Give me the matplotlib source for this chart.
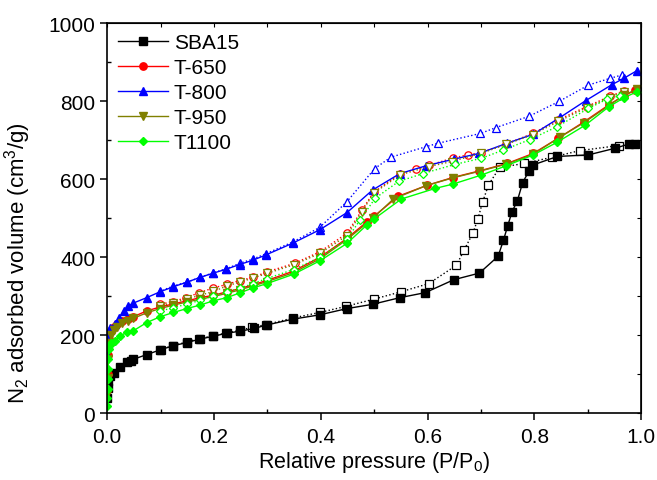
import matplotlib
matplotlib.use("Agg")
import matplotlib.pyplot as plt
from matplotlib.ticker import MultipleLocator

plt.rcParams['font.family'] = ['Liberation Sans', 'DejaVu Sans']
plt.rcParams['mathtext.default'] = 'regular'

# --- data (adsorption = filled, desorption = open) ---
sba_ads_x = [0.0005, 0.001, 0.002, 0.005, 0.012, 0.024, 0.037, 0.044, 0.049, 0.074, 0.099, 0.124,
             0.150, 0.174, 0.199, 0.224, 0.249, 0.275, 0.299, 0.348, 0.398, 0.449, 0.497, 0.548,
             0.596, 0.649, 0.697, 0.732, 0.742, 0.750, 0.758, 0.768, 0.778, 0.790, 0.797, 0.843,
             0.901, 0.951, 0.977, 0.989]
sba_ads_y = [40, 65, 82, 95, 102, 119, 130, 134, 138, 150, 162, 173, 181, 190, 197, 205, 210, 217,
             226, 241, 252, 268, 279, 296, 309, 342, 359, 402, 443, 480, 516, 544, 591, 621, 636,
             658, 662, 679, 690, 690]
sba_des_x = [0.958, 0.885, 0.833, 0.781, 0.735, 0.714, 0.703, 0.694, 0.685, 0.668, 0.654, 0.602,
             0.550, 0.499, 0.448, 0.398, 0.348, 0.298, 0.271, 0.248, 0.222, 0.198, 0.173, 0.150,
             0.124, 0.100]
sba_des_y = [686, 673, 656, 640, 630, 585, 541, 497, 462, 417, 379, 332, 311, 292, 274, 258, 244,
             227, 220, 212, 205, 198, 191, 183, 173, 163]

t650_ads_x = [0.0005, 0.001, 0.002, 0.004, 0.008, 0.012, 0.018, 0.027, 0.040, 0.049, 0.074, 0.099,
              0.124, 0.150, 0.174, 0.199, 0.224, 0.248, 0.273, 0.299, 0.349, 0.399, 0.449, 0.486,
              0.500, 0.545, 0.599, 0.647, 0.697, 0.749, 0.798, 0.845, 0.892, 0.939, 0.967, 0.989]
t650_ads_y = [60, 100, 150, 190, 210, 220, 228, 235, 241, 247, 262, 272, 280, 288, 296, 302, 311,
              319, 329, 340, 364, 400, 448, 490, 505, 556, 584, 604, 621, 640, 666, 705, 746, 790,
              813, 828]
t650_des_x = [0.967, 0.941, 0.898, 0.845, 0.797, 0.747, 0.700, 0.675, 0.647, 0.602, 0.579, 0.549,
              0.499, 0.477, 0.449, 0.399, 0.351, 0.299, 0.274, 0.248, 0.224, 0.199, 0.173, 0.148,
              0.123, 0.099]
t650_des_y = [826, 812, 786, 752, 717, 690, 668, 662, 654, 635, 626, 614, 566, 520, 461, 414, 384,
              362, 348, 340, 330, 321, 309, 296, 286, 279]

t800_ads_x = [0.0005, 0.001, 0.003, 0.006, 0.015, 0.023, 0.031, 0.040, 0.049, 0.074, 0.099, 0.124,
              0.150, 0.174, 0.199, 0.223, 0.248, 0.273, 0.298, 0.348, 0.398, 0.449, 0.497, 0.548,
              0.597, 0.649, 0.697, 0.749, 0.798, 0.848, 0.896, 0.945, 0.967, 0.992]
t800_ads_y = [150, 190, 211, 218, 228, 245, 262, 275, 282, 296, 311, 324, 336, 348, 359, 369, 381,
              392, 406, 436, 470, 514, 572, 614, 634, 651, 666, 692, 715, 758, 801, 842, 858, 878]
t800_des_x = [0.964, 0.941, 0.901, 0.846, 0.790, 0.728, 0.699, 0.620, 0.597, 0.531, 0.501, 0.449,
              0.398, 0.348, 0.298, 0.273, 0.248, 0.223, 0.199, 0.174, 0.150, 0.124, 0.099]
t800_des_y = [867, 858, 841, 799, 761, 732, 717, 692, 683, 656, 627, 542, 476, 439, 409, 395, 384,
              370, 360, 348, 336, 326, 312]

t950_ads_x = [0.0005, 0.001, 0.002, 0.004, 0.008, 0.012, 0.018, 0.027, 0.040, 0.049, 0.074, 0.099,
              0.124, 0.150, 0.174, 0.199, 0.224, 0.248, 0.273, 0.299, 0.349, 0.399, 0.449, 0.497,
              0.536, 0.597, 0.647, 0.697, 0.747, 0.798, 0.847, 0.892, 0.939, 0.967, 0.992]
t950_ads_y = [50, 90, 140, 180, 200, 212, 222, 230, 237, 243, 257, 268, 277, 285, 292, 299, 307,
              316, 326, 337, 360, 396, 445, 499, 549, 583, 603, 620, 638, 664, 707, 744, 788, 815,
              830]
t950_des_x = [0.967, 0.941, 0.898, 0.845, 0.797, 0.747, 0.700, 0.645, 0.602, 0.549, 0.499, 0.477,
              0.449, 0.399, 0.349, 0.299, 0.273, 0.249, 0.224, 0.199, 0.174, 0.150, 0.124, 0.099]
t950_des_y = [824, 809, 783, 748, 714, 689, 666, 645, 632, 611, 564, 516, 455, 410, 380, 358, 346,
              336, 326, 312, 302, 293, 283, 275]

t1100_ads_x = [0.0003, 0.0005, 0.0008, 0.001, 0.0015, 0.002, 0.003, 0.005, 0.008, 0.015, 0.024,
               0.037, 0.049, 0.074, 0.099, 0.124, 0.149, 0.174, 0.199, 0.224, 0.248, 0.273, 0.299,
               0.349, 0.399, 0.449, 0.486, 0.499, 0.551, 0.614, 0.647, 0.700, 0.747, 0.798, 0.842,
               0.895, 0.939, 0.967, 0.992]
t1100_ads_y = [19, 40, 61, 87, 113, 138, 164, 175, 180, 185, 198, 207, 211, 232, 247, 258, 268,
               277, 288, 296, 308, 321, 332, 356, 391, 435, 482, 497, 549, 576, 587, 610, 634, 662,
               694, 738, 785, 808, 824]
t1100_des_x = [0.961, 0.936, 0.901, 0.842, 0.791, 0.741, 0.700, 0.652, 0.591, 0.546, 0.502, 0.474,
               0.449, 0.399, 0.349, 0.299, 0.273, 0.248, 0.224, 0.199, 0.174, 0.150, 0.124, 0.099]
t1100_des_y = [814, 805, 781, 734, 701, 674, 653, 638, 614, 594, 551, 496, 446, 400, 368, 345, 332,
               320, 310, 300, 289, 280, 270, 262]

series = [
    ('SBA15', 'black', 's', sba_ads_x, sba_ads_y, sba_des_x, sba_des_y),
    ('T-650', 'red', 'o', t650_ads_x, t650_ads_y, t650_des_x, t650_des_y),
    ('T-800', 'blue', '^', t800_ads_x, t800_ads_y, t800_des_x, t800_des_y),
    ('T-950', '#808000', 'v', t950_ads_x, t950_ads_y, t950_des_x, t950_des_y),
    ('T1100', '#00ff00', 'D', t1100_ads_x, t1100_ads_y, t1100_des_x, t1100_des_y),
]

fig = plt.figure(figsize=(6.57, 4.81), dpi=100)
ax = fig.add_axes([0.163, 0.139, 0.813, 0.811])

for name, col, mk, ax_x, ax_y, dx, dy in series:
    ms = 4.5 if mk == 'D' else 5.3
    ax.plot(dx, dy, linestyle=':', color=col, lw=1.0, marker=mk, ms=ms,
            markerfacecolor='white', markeredgecolor=col, markeredgewidth=0.9)
    ax.plot(ax_x, ax_y, linestyle='-', color=col, lw=1.0, marker=mk, ms=ms,
            markerfacecolor=col, markeredgecolor=col, label=name)

ax.set_xlim(0, 1.0)
ax.set_ylim(0, 1000)
ax.xaxis.set_major_locator(MultipleLocator(0.2))
ax.xaxis.set_minor_locator(MultipleLocator(0.1))
ax.yaxis.set_major_locator(MultipleLocator(200))
ax.yaxis.set_minor_locator(MultipleLocator(100))
ax.xaxis.set_major_formatter(matplotlib.ticker.FormatStrFormatter('%.1f'))

ax.tick_params(which='major', direction='out', length=5, width=1.1, labelsize=15)
ax.tick_params(axis='x', which='major', pad=5)
ax.tick_params(which='minor', direction='in', length=3, width=1.0)
for s in ax.spines.values():
    s.set_linewidth(1.2)

top = ax.secondary_xaxis('top')
top.xaxis.set_major_locator(MultipleLocator(0.1))
top.tick_params(direction='in', length=3, labeltop=False)
right = ax.secondary_yaxis('right')
right.yaxis.set_major_locator(MultipleLocator(100))
right.tick_params(direction='in', length=3, labelright=False)

ax.set_xlabel('Relative pressure (P/P$_0$)', fontsize=15.5, labelpad=2)
ax.set_ylabel('N$_2$ adsorbed volume (cm$^3$/g)', fontsize=16)
ax.yaxis.set_label_coords(-0.139, 0.387)

ax.legend(loc='upper left', frameon=False, fontsize=15, handlelength=2.4,
          handletextpad=0.3, labelspacing=0.28, borderaxespad=0.1, numpoints=1)

fig.savefig('out.png', dpi=100)
